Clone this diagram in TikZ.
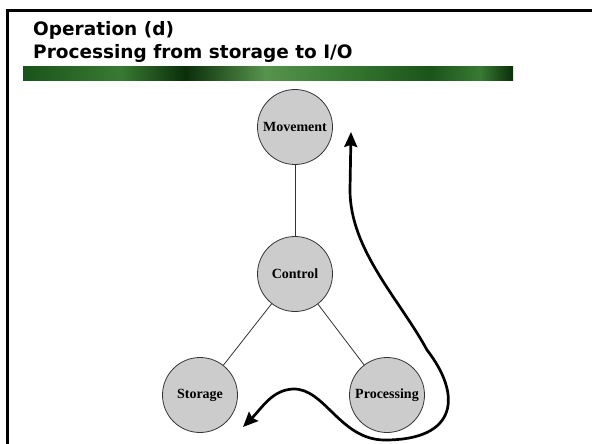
\documentclass[tikz,border=0pt]{standalone}
\usepackage{fontspec}
\setmainfont{Liberation Serif}
\newfontfamily\headfont{DejaVu Sans}
\usepackage{tikz}
\usetikzlibrary{arrows.meta}
\definecolor{leafdark}{rgb}{0.04,0.18,0.04}
\definecolor{leafdeep}{rgb}{0.10,0.33,0.10}
\definecolor{leafmid}{rgb}{0.22,0.48,0.20}
\definecolor{leaflight}{rgb}{0.34,0.58,0.30}
\definecolor{unitgray}{rgb}{0.80,0.80,0.80}
\tikzset{
  unit/.style     = {circle,draw=black!80,fill=unitgray,thick,minimum size=75pt,
                     inner sep=0pt,font=\bfseries\fontsize{14}{14}\selectfont},
  link/.style     = {black!80,thick},
  flowarr/.style  = {{Stealth[length=15pt,width=13pt,inset=2pt]}-{Stealth[length=15pt,width=13pt,inset=2pt]},
                     line width=2.7pt},
  heading/.style  = {anchor=base west,inner sep=0pt,
                     font=\headfont\bfseries\fontsize{18.5}{18.5}\selectfont}
}

\begin{document}
\begin{tikzpicture}[x=1pt,y=-1pt]
  \useasboundingbox (0,0) rectangle (592,444);
  % slide frame and banner
  \draw[line width=2.5pt] (7.5,450) -- (7.5,10.5) -- (600,10.5);
  \foreach \xa/\xb/\ca/\cb in {23/120.5/leafdeep/leafmid, 120/185.5/leafmid/leafdark,
      185/265.5/leafdark/leaflight, 265/340.5/leaflight/leafmid,
      340/430.5/leafmid/leafdeep, 430/480.5/leafdeep/leafmid, 480/513/leafmid/leafdark}
    \shade[left color=\ca,right color=\cb] (\xa,67) rectangle (\xb,81);
  \node[heading] (head1) at (33,36) {Operation (d)};
  \node[heading] (head2) at (33,59) {Processing from storage to I/O};

  % functional units
  \node[unit] (move) at (295,127) {Movement};
  \node[unit] (ctrl) at (295,274) {Control};
  \node[unit] (stor) at (200,395) {Storage};
  \node[unit] (proc) at (387,395) {Processing};
  \draw[link] (move) -- (ctrl);
  \draw[link] (ctrl) -- (stor);
  \draw[link] (ctrl) -- (proc);

  % data path
  \coordinate (flowin) at (243,427);
  \coordinate (flowout) at (351,132);
  \draw[flowarr] (flowin) .. controls (262,408) and (272,390) .. (293,389)
        .. controls (325,388) and (340,440) .. (385,440)
        .. controls (458,440) and (462,395) .. (427,350)
        .. controls (400,300) and (350,250) .. (350,190) -- (flowout);
\end{tikzpicture}
\end{document}
